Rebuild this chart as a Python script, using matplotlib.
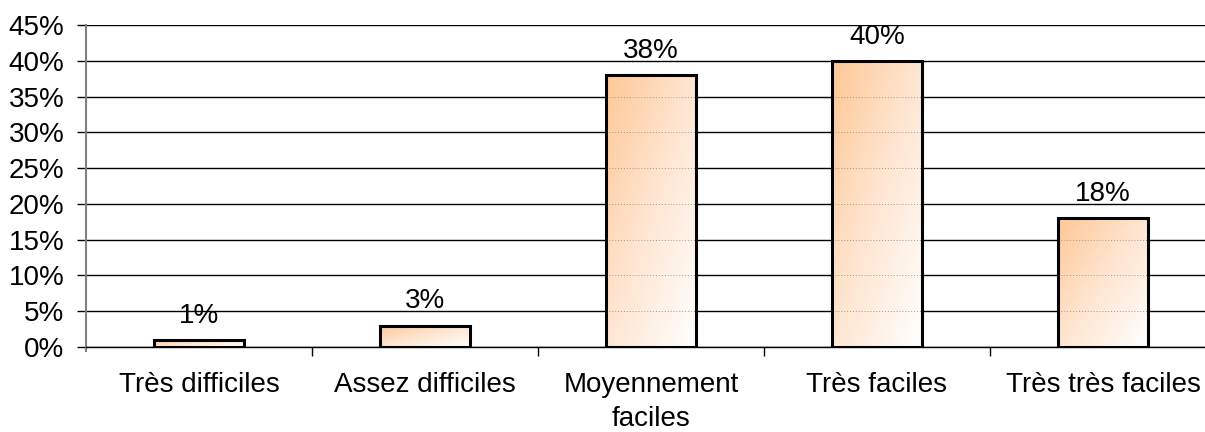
import matplotlib
matplotlib.use("Agg")
import matplotlib.pyplot as plt
import numpy as np
from matplotlib.colors import LinearSegmentedColormap

categories = ["Très difficiles", "Assez difficiles", "Moyennement\nfaciles", "Très faciles", "Très très faciles"]
values = [1, 3, 38, 40, 18]
yticks = [0, 5, 10, 15, 20, 25, 30, 35, 40, 45]
ytick_labels = [f"{v}%" for v in yticks]

plt.rcParams['font.family'] = ['Liberation Sans', 'DejaVu Sans']
FS = 20

fig = plt.figure(figsize=(12.05, 4.32), dpi=100)
ax = fig.add_axes([86/1205, 1-347/432, 1130/1205, (347-25)/432])

x = np.arange(len(categories))
width = 0.40
bars = ax.bar(x, values, width=width, facecolor='none', edgecolor='black', linewidth=2.2, zorder=4)

cmap = LinearSegmentedColormap.from_list("g", ["#FFFFFF", "#FEE6D2", "#FFC896"])
n = 100
gx, gy = np.meshgrid(np.linspace(0, 1, n), np.linspace(0, 1, n))
grad = (gy * 0.5 + (1 - gx) * 0.5)  # top-left darkest (origin lower)
for b in bars:
    x0, y0 = b.get_x(), b.get_y()
    w, h = b.get_width(), b.get_height()
    im = ax.imshow(grad, extent=[x0, x0 + w, y0, y0 + h], origin='lower', cmap=cmap,
                   aspect='auto', zorder=3, interpolation='bilinear')
    im.set_clip_path(b)
    for yt in yticks:
        if 0 < yt < h:
            ax.plot([x0, x0 + w], [yt, yt], linestyle=(0, (1, 2)), color='#b09080', linewidth=0.7, zorder=3.5)

for xi, v in zip(x, values):
    ax.annotate(f"{v}%", (xi, v), xytext=(0, 8), textcoords='offset points',
                ha='center', va='bottom', fontsize=FS, zorder=6)

ax.set_xlim(-0.5, len(categories) - 0.5)
ax.set_ylim(0, 45)
ax.set_yticks(yticks)
ax.set_yticklabels(ytick_labels, fontsize=FS)
ax.yaxis.grid(True, color='black', linewidth=1.0)
ax.set_axisbelow(True)

ax.set_xticks(x)
ax.set_xticklabels(categories, fontsize=FS, linespacing=1.4)
ax.set_xticks(np.arange(0.5, len(categories) - 0.5, 1.0), minor=True)
ax.tick_params(axis='x', which='major', length=0, pad=18)
ax.tick_params(axis='x', which='minor', length=6.5, width=1, direction='out')
ax.tick_params(axis='y', length=6.5, width=1, direction='out', pad=9)

for s in ['top', 'right']:
    ax.spines[s].set_visible(False)
ax.spines['left'].set_color('#808080')
ax.spines['left'].set_linewidth(1.5)
ax.spines['left'].set_bounds(-0.6, 45)
ax.spines['bottom'].set_linewidth(1.0)

fig.savefig("out.png", dpi=100)
